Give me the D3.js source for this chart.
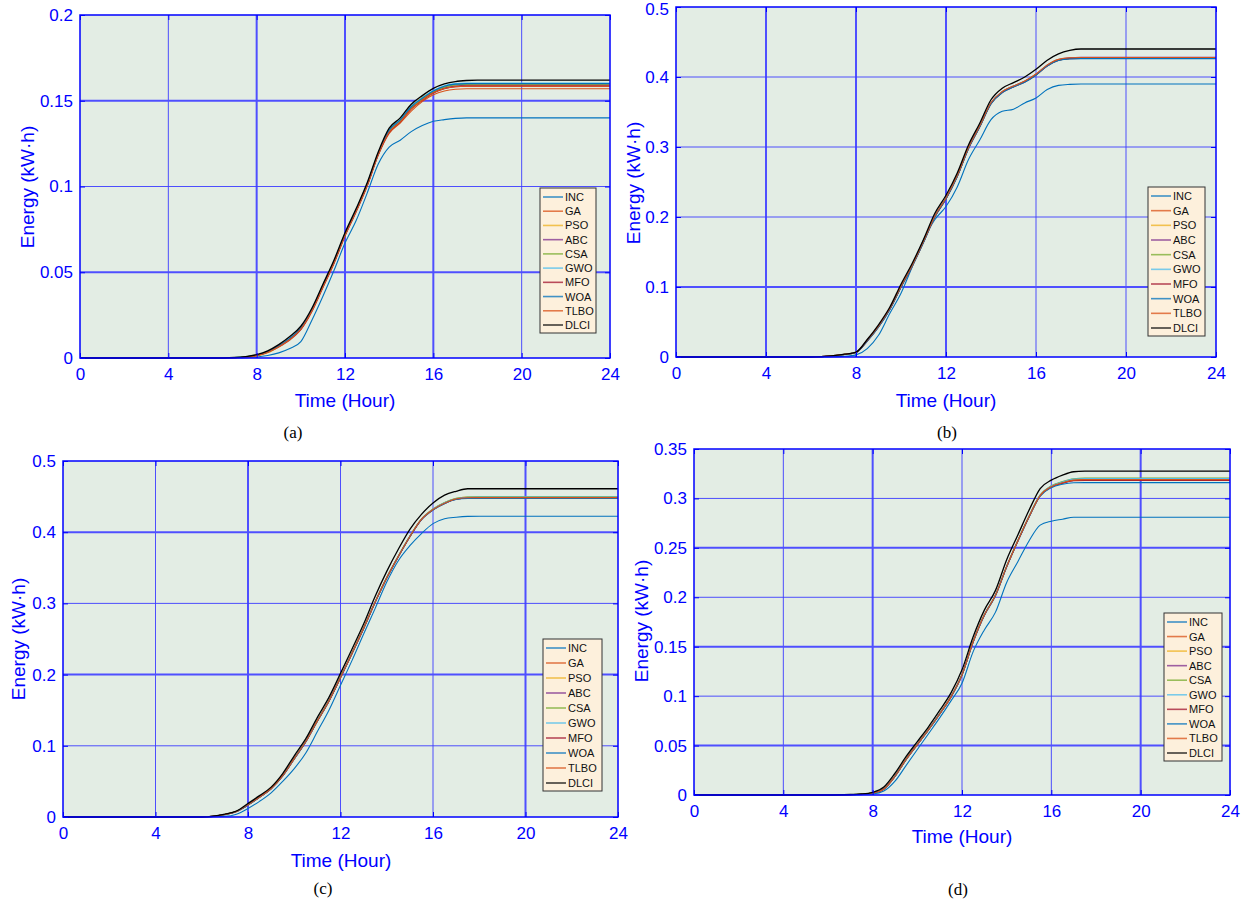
<!DOCTYPE html>
<html><head><meta charset="utf-8">
<script src="https://cdn.jsdelivr.net/npm/d3@7"></script>
<style>body{margin:0;background:#fff;} svg{display:block;}</style>
</head><body><svg id="chart" width="1245" height="904"></svg>
<script>
// ---------- DATA ----------
const hours = [0,6,7,7.5,8,8.5,9,9.5,10,10.5,11,11.5,12,12.5,13,13.5,14,14.5,15,15.5,16,16.5,17,17.5,18,24];
const seriesNames = ["INC","GA","PSO","ABC","CSA","GWO","MFO","WOA","TLBO","DLCI"];
const xTickValues = [0,4,8,12,16,20,24];
const xTickLabels = ["0","4","8","12","16","20","24"];
const yTicksA = [0,0.05,0.1,0.15,0.2];   const yTickLabelsA = ["0","0.05","0.1","0.15","0.2"];
const yTicksB = [0,0.1,0.2,0.3,0.4,0.5]; const yTickLabelsB = ["0","0.1","0.2","0.3","0.4","0.5"];
const yTicksC = [0,0.1,0.2,0.3,0.4,0.5]; const yTickLabelsC = ["0","0.1","0.2","0.3","0.4","0.5"];
const yTicksD = [0,0.05,0.1,0.15,0.2,0.25,0.3,0.35]; const yTickLabelsD = ["0","0.05","0.1","0.15","0.2","0.25","0.3","0.35"];
const captions = ["(a)","(b)","(c)","(d)"];
const xTitle = "Time (Hour)";
const yTitle = "Energy (kW·h)";

// panel (a)
const a_INC  = [0,0,0,0.0002,0.0006,0.0015,0.003,0.0055,0.0095,0.022,0.036,0.051,0.067,0.080,0.096,0.113,0.123,0.127,0.132,0.1355,0.138,0.139,0.1397,0.14,0.14,0.14];
const a_GA   = [0,0,0.0002,0.0006,0.0014,0.0032,0.0064,0.0105,0.0165,0.027,0.041,0.055,0.071,0.085,0.100,0.118,0.131,0.137,0.144,0.1495,0.1535,0.1557,0.1567,0.157,0.157,0.157];
const a_PSO  = [0,0,0.0001,0.0004,0.0011,0.0030,0.0066,0.0112,0.0175,0.028,0.042,0.056,0.072,0.086,0.101,0.119,0.133,0.139,0.147,0.152,0.1555,0.1578,0.1590,0.1594,0.1595,0.1595];
const a_ABC  = [0,0,0.0002,0.0006,0.0015,0.0034,0.0066,0.0108,0.0168,0.0275,0.0415,0.0555,0.0715,0.0855,0.1005,0.1185,0.1318,0.1378,0.1455,0.1505,0.1548,0.1574,0.1586,0.159,0.159,0.159];
const a_CSA  = [0,0,0.0002,0.0007,0.0016,0.0036,0.0069,0.0112,0.0172,0.028,0.042,0.056,0.072,0.086,0.101,0.119,0.1325,0.1385,0.146,0.151,0.1553,0.1580,0.1593,0.1597,0.1598,0.1598];
const a_GWO  = [0,0,0.0002,0.0007,0.0017,0.0038,0.0072,0.0116,0.0176,0.0283,0.0425,0.0565,0.0725,0.0865,0.1015,0.1193,0.133,0.139,0.1468,0.1518,0.1560,0.1588,0.1600,0.1603,0.1603,0.1603];
const a_MFO  = [0,0,0.0002,0.0006,0.0015,0.0035,0.0068,0.011,0.0168,0.0275,0.0415,0.0555,0.0715,0.0855,0.1005,0.1185,0.1315,0.1375,0.1452,0.1502,0.1545,0.157,0.1582,0.1585,0.1585,0.1585];
const a_WOA  = [0,0,0.0002,0.0007,0.0016,0.0037,0.007,0.0114,0.0174,0.0282,0.0422,0.0562,0.0722,0.0862,0.1012,0.119,0.1328,0.1388,0.1465,0.1515,0.1557,0.1585,0.1597,0.16,0.16,0.16];
const a_TLBO = [0,0,0.0002,0.0006,0.0015,0.0034,0.0066,0.0108,0.0168,0.0275,0.0415,0.0555,0.0715,0.0855,0.1005,0.1185,0.1316,0.1376,0.1453,0.1503,0.1546,0.1571,0.1582,0.1585,0.1585,0.1585];
const a_DLCI = [0,0,0.0003,0.0008,0.002,0.0042,0.0078,0.0125,0.0185,0.029,0.043,0.057,0.073,0.087,0.102,0.120,0.134,0.140,0.148,0.153,0.1572,0.1598,0.1612,0.1618,0.162,0.162];

// panel (b)
const b_INC  = [0,0,0.0005,0.001,0.003,0.012,0.031,0.062,0.091,0.129,0.167,0.196,0.215,0.243,0.282,0.31,0.339,0.351,0.354,0.363,0.37,0.382,0.388,0.3895,0.39,0.39];
const b_GA   = [0,0,0.0018,0.0037,0.0065,0.023,0.043,0.068,0.100,0.130,0.164,0.200,0.226,0.258,0.298,0.329,0.362,0.378,0.386,0.393,0.403,0.416,0.424,0.4265,0.427,0.427];
const b_PSO  = [0,0,0.0019,0.0038,0.0066,0.0235,0.0435,0.0685,0.1005,0.1305,0.1645,0.2005,0.2265,0.2585,0.2985,0.3295,0.3625,0.3785,0.3865,0.3935,0.4035,0.4165,0.4245,0.427,0.4275,0.4275];
const b_ABC  = [0,0,0.0019,0.0038,0.0067,0.024,0.044,0.069,0.101,0.131,0.165,0.201,0.227,0.259,0.299,0.330,0.363,0.379,0.387,0.394,0.404,0.417,0.425,0.4275,0.428,0.428];
const b_CSA  = [0,0,0.0018,0.0037,0.0066,0.0235,0.0435,0.0685,0.1005,0.1305,0.1645,0.2005,0.2265,0.2585,0.2985,0.3295,0.3625,0.3785,0.3865,0.3935,0.4035,0.4163,0.4243,0.4265,0.4268,0.4268];
const b_GWO  = [0,0,0.0019,0.0038,0.0066,0.0238,0.0438,0.0688,0.1008,0.1308,0.1648,0.2008,0.2268,0.2588,0.2988,0.3298,0.3628,0.3788,0.3868,0.3938,0.4038,0.4168,0.4248,0.4268,0.4272,0.4272];
const b_MFO  = [0,0,0.0018,0.0036,0.0064,0.0228,0.0428,0.0678,0.0998,0.1298,0.1638,0.1998,0.2258,0.2578,0.2978,0.3288,0.3618,0.3778,0.3858,0.3928,0.4028,0.4158,0.4238,0.4262,0.4265,0.4265];
const b_WOA  = [0,0,0.0017,0.0036,0.0064,0.0226,0.0426,0.0676,0.0996,0.1296,0.1636,0.1996,0.2256,0.2576,0.2976,0.3286,0.3616,0.3776,0.3856,0.3926,0.4026,0.4156,0.4236,0.4259,0.4262,0.4262];
const b_TLBO = [0,0,0.0019,0.0039,0.0068,0.0242,0.0442,0.0692,0.1012,0.1312,0.1652,0.2012,0.2272,0.2592,0.2992,0.3302,0.3632,0.3792,0.3872,0.3942,0.4042,0.4172,0.4252,0.4274,0.4278,0.4278];
const b_DLCI = [0,0,0.002,0.004,0.007,0.025,0.046,0.071,0.104,0.134,0.168,0.205,0.231,0.263,0.303,0.334,0.3675,0.384,0.392,0.400,0.411,0.424,0.433,0.438,0.44,0.44];

// panel (c)
const c_INC  = [0,0,0.001,0.004,0.012,0.022,0.034,0.050,0.068,0.090,0.120,0.150,0.185,0.220,0.257,0.293,0.330,0.360,0.381,0.398,0.412,0.419,0.421,0.4222,0.4225,0.4225];
const c_GA   = [0,0,0.0035,0.0078,0.017,0.028,0.040,0.058,0.082,0.106,0.135,0.163,0.196,0.230,0.265,0.302,0.336,0.366,0.394,0.418,0.432,0.441,0.447,0.4487,0.449,0.449];
const c_PSO  = [0,0,0.0036,0.0079,0.0172,0.0282,0.0403,0.0583,0.0823,0.1063,0.1353,0.1633,0.1963,0.2303,0.2653,0.3023,0.3363,0.3663,0.3943,0.4183,0.4324,0.4414,0.4474,0.4492,0.4495,0.4495];
const c_ABC  = [0,0,0.0034,0.0077,0.0169,0.0279,0.0398,0.0578,0.0818,0.1058,0.1348,0.1628,0.1958,0.2298,0.2648,0.3018,0.3358,0.3658,0.3938,0.4178,0.4316,0.4405,0.4464,0.4478,0.448,0.448];
const c_CSA  = [0,0,0.0036,0.008,0.0173,0.0284,0.0405,0.0585,0.0825,0.1065,0.1355,0.1635,0.1965,0.2305,0.2655,0.3025,0.3365,0.3665,0.3945,0.4185,0.4326,0.4416,0.4477,0.4495,0.4498,0.4498];
const c_GWO  = [0,0,0.0035,0.0079,0.0171,0.0281,0.0402,0.0582,0.0822,0.1062,0.1352,0.1632,0.1962,0.2302,0.2652,0.3022,0.3362,0.3662,0.3942,0.4182,0.4322,0.4412,0.4471,0.4489,0.4492,0.4492];
const c_MFO  = [0,0,0.0034,0.0077,0.0168,0.0278,0.0397,0.0577,0.0817,0.1057,0.1347,0.1627,0.1957,0.2297,0.2647,0.3017,0.3357,0.3657,0.3937,0.4177,0.4314,0.4403,0.4462,0.4476,0.4478,0.4478];
const c_WOA  = [0,0,0.0033,0.0076,0.0167,0.0277,0.0396,0.0576,0.0816,0.1056,0.1346,0.1626,0.1956,0.2296,0.2646,0.3016,0.3356,0.3656,0.3936,0.4176,0.4312,0.4401,0.4459,0.4473,0.4475,0.4475];
const c_TLBO = [0,0,0.0035,0.0078,0.017,0.028,0.040,0.058,0.082,0.106,0.135,0.163,0.196,0.230,0.265,0.302,0.336,0.366,0.394,0.418,0.4318,0.4407,0.4467,0.4483,0.4485,0.4485];
const c_DLCI = [0,0,0.004,0.0084,0.019,0.030,0.042,0.061,0.086,0.110,0.140,0.168,0.2017,0.236,0.271,0.310,0.345,0.376,0.404,0.425,0.441,0.452,0.4575,0.461,0.461,0.461];

// panel (d)
const d_INC  = [0,0,0.0001,0.0004,0.001,0.004,0.014,0.030,0.046,0.062,0.078,0.095,0.113,0.145,0.167,0.185,0.215,0.236,0.257,0.273,0.277,0.279,0.281,0.281,0.281,0.281];
const d_GA   = [0,0,0.0003,0.0008,0.002,0.006,0.019,0.036,0.051,0.066,0.082,0.099,0.1215,0.155,0.182,0.202,0.231,0.257,0.2815,0.303,0.312,0.316,0.319,0.3195,0.3195,0.3195];
const d_PSO  = [0,0,0.0003,0.0008,0.0021,0.0062,0.0192,0.0362,0.0512,0.0662,0.0822,0.0992,0.1217,0.1552,0.1822,0.2022,0.2312,0.2572,0.2817,0.3032,0.3123,0.3163,0.3192,0.3198,0.3198,0.3198];
const d_ABC  = [0,0,0.0003,0.0008,0.002,0.006,0.019,0.036,0.051,0.066,0.082,0.099,0.1215,0.155,0.182,0.202,0.231,0.257,0.2815,0.3028,0.3117,0.3155,0.3182,0.3186,0.3186,0.3186];
const d_CSA  = [0,0,0.0003,0.0009,0.0022,0.0064,0.0195,0.0365,0.0515,0.0665,0.0825,0.0995,0.122,0.1555,0.1825,0.2025,0.2315,0.2575,0.282,0.3036,0.3128,0.317,0.3198,0.3205,0.3205,0.3205];
const d_GWO  = [0,0,0.0003,0.0008,0.0021,0.0063,0.0193,0.0363,0.0513,0.0663,0.0823,0.0993,0.1218,0.1553,0.1823,0.2023,0.2313,0.2573,0.2818,0.3034,0.3125,0.3166,0.3195,0.3201,0.3201,0.3201];
const d_MFO  = [0,0,0.0003,0.0008,0.002,0.006,0.019,0.036,0.051,0.066,0.082,0.099,0.1214,0.1549,0.1819,0.2019,0.2309,0.2569,0.2813,0.3027,0.3115,0.3153,0.318,0.3183,0.3183,0.3183];
const d_WOA  = [0,0,0.0002,0.0007,0.0019,0.0058,0.0188,0.0358,0.0508,0.0658,0.0818,0.0988,0.1212,0.1546,0.1816,0.2016,0.2306,0.2566,0.281,0.3022,0.3108,0.3143,0.3158,0.316,0.316,0.316];
const d_TLBO = [0,0,0.0003,0.0008,0.002,0.006,0.019,0.036,0.051,0.066,0.082,0.099,0.1215,0.155,0.182,0.202,0.231,0.257,0.2814,0.3029,0.3119,0.3158,0.3185,0.319,0.319,0.319];
const d_DLCI = [0,0,0.0005,0.001,0.0027,0.008,0.022,0.039,0.054,0.069,0.0855,0.103,0.1266,0.160,0.187,0.207,0.238,0.263,0.288,0.310,0.3185,0.3236,0.327,0.3276,0.3277,0.3277];

// ---------- STYLE / LAYOUT ----------
const seriesColors = ["#0072BD","#D95319","#EDB120","#7E2F8E","#77AC30","#4DBEEE","#A2142F","#0072BD","#D95319","#000000"];
const BLUE = "#0000ff";
const SANS = "'Liberation Sans', Arial, Helvetica, sans-serif";
const SERIF = "'Liberation Serif', 'Times New Roman', serif";

const panels = [
  { series:[a_INC,a_GA,a_PSO,a_ABC,a_CSA,a_GWO,a_MFO,a_WOA,a_TLBO,a_DLCI], yMax:0.2, yTicks:yTicksA, yLabels:yTickLabelsA,
    l:80, r:610, t:15, b:358, xThick:[8,12,16], yThick:[0.05,0.15],
    leg:{x:540,y:188,w:56,h:145}, xt:{x:345,y:400}, yt:{x:27,y:187}, cap:{x:293,y:432} },
  { series:[b_INC,b_GA,b_PSO,b_ABC,b_CSA,b_GWO,b_MFO,b_WOA,b_TLBO,b_DLCI], yMax:0.5, yTicks:yTicksB, yLabels:yTickLabelsB,
    l:676, r:1216, t:7, b:357, xThick:[4,8,12], yThick:[0.1],
    leg:{x:1148,y:187,w:57,h:149}, xt:{x:946,y:400}, yt:{x:633,y:183}, cap:{x:947,y:432} },
  { series:[c_INC,c_GA,c_PSO,c_ABC,c_CSA,c_GWO,c_MFO,c_WOA,c_TLBO,c_DLCI], yMax:0.5, yTicks:yTicksC, yLabels:yTickLabelsC,
    l:63, r:618, t:461, b:817, xThick:[8,20], yThick:[0.2,0.4],
    leg:{x:543,y:639,w:59,h:152}, xt:{x:341,y:860}, yt:{x:18,y:639}, cap:{x:323,y:888} },
  { series:[d_INC,d_GA,d_PSO,d_ABC,d_CSA,d_GWO,d_MFO,d_WOA,d_TLBO,d_DLCI], yMax:0.35, yTicks:yTicksD, yLabels:yTickLabelsD,
    l:694, r:1230, t:449, b:795, xThick:[8,20], yThick:[0.05,0.15,0.25],
    leg:{x:1164,y:613,w:58,h:148}, xt:{x:962,y:836}, yt:{x:641,y:621}, cap:{x:958,y:889} }
];

const svg = d3.select("#chart");

panels.forEach((p, pi) => {
  const g = svg.append("g");
  const x = d3.scaleLinear().domain([0,24]).range([p.l,p.r]);
  const y = d3.scaleLinear().domain([0,p.yMax]).range([p.b,p.t]);

  g.append("rect").attr("x",p.l).attr("y",p.t).attr("width",p.r-p.l).attr("height",p.b-p.t)
    .attr("fill","#e3ede4");

  // grid
  xTickValues.filter(v => v>0 && v<24).forEach(v => {
    const thick = p.xThick.includes(v);
    g.append("line").attr("x1",x(v)).attr("x2",x(v)).attr("y1",p.t).attr("y2",p.b)
      .attr("stroke", thick ? "#4f4fff" : "#3c3cff").attr("stroke-width", thick ? 2 : 0.9);
  });
  p.yTicks.filter(v => v>0 && v<p.yMax).forEach(v => {
    const thick = p.yThick.includes(v);
    g.append("line").attr("x1",p.l).attr("x2",p.r).attr("y1",y(v)).attr("y2",y(v))
      .attr("stroke", thick ? "#4f4fff" : "#3c3cff").attr("stroke-width", thick ? 2 : 0.9);
  });

  // lines
  const line = d3.line().x((d,i) => x(hours[i])).y(d => y(d)).curve(d3.curveMonotoneX);
  p.series.forEach((s, si) => {
    g.append("path").datum(s).attr("d", line).attr("fill","none")
      .attr("stroke", seriesColors[si]).attr("stroke-width", si === 9 ? 1.3 : 1.1);
  });

  // axes
  const styleAxis = sel => {
    sel.select(".domain").remove();
    sel.selectAll(".tick line").attr("stroke", BLUE).attr("stroke-width",1);
    sel.selectAll(".tick text").attr("fill", BLUE).style("font-family", SANS).style("font-size","17px");
  };
  g.append("g").attr("transform",`translate(0,${p.b})`)
    .call(d3.axisBottom(x).tickValues(xTickValues).tickFormat((d,i) => xTickLabels[i]).tickSize(-5).tickPadding(10))
    .call(styleAxis);
  g.append("g").attr("transform",`translate(0,${p.t})`)
    .call(d3.axisTop(x).tickValues(xTickValues).tickFormat("").tickSize(-5))
    .call(styleAxis);
  const yAx = g.append("g").attr("transform",`translate(${p.l},0)`)
    .call(d3.axisLeft(y).tickValues(p.yTicks).tickFormat((d,i) => p.yLabels[i]).tickSize(-5).tickPadding(7))
    .call(styleAxis);
  // keep the top label inside the picture
  yAx.selectAll(".tick text").filter(d => y(d) < 10).attr("dy", "0.45em");
  g.append("g").attr("transform",`translate(${p.r},0)`)
    .call(d3.axisRight(y).tickValues(p.yTicks).tickFormat("").tickSize(-5))
    .call(styleAxis);

  g.append("rect").attr("x",p.l).attr("y",p.t).attr("width",p.r-p.l).attr("height",p.b-p.t)
    .attr("fill","none").attr("stroke",BLUE).attr("stroke-width",1.5);

  // axis titles
  g.append("text").attr("x",p.xt.x).attr("y",p.xt.y).attr("text-anchor","middle")
    .attr("dominant-baseline","central").attr("fill",BLUE)
    .style("font-family",SANS).style("font-size","19px").text(xTitle);
  g.append("text").attr("transform",`translate(${p.yt.x},${p.yt.y}) rotate(-90)`).attr("text-anchor","middle")
    .attr("dominant-baseline","central").attr("fill",BLUE)
    .style("font-family",SANS).style("font-size","19px").text(yTitle);

  // caption
  g.append("text").attr("x",p.cap.x).attr("y",p.cap.y).attr("text-anchor","middle")
    .attr("dominant-baseline","central").attr("fill","#000")
    .style("font-family",SERIF).style("font-size","17px").text(captions[pi]);

  // legend
  const L = p.leg;
  g.append("rect").attr("x",L.x).attr("y",L.y).attr("width",L.w).attr("height",L.h)
    .attr("fill","#fdf0dc").attr("stroke","#333").attr("stroke-width",1);
  const step = (L.h - 17) / 9;
  seriesNames.forEach((n, si) => {
    const cy = L.y + 9 + si*step;
    g.append("line").attr("x1",L.x+3).attr("x2",L.x+23).attr("y1",cy).attr("y2",cy)
      .attr("stroke",seriesColors[si]).attr("stroke-width",1.6).attr("stroke-opacity",0.75);
    g.append("text").attr("x",L.x+25).attr("y",cy).attr("dominant-baseline","central")
      .attr("fill","#111").style("font-family",SANS).style("font-size","11px").text(n);
  });
});
</script>
</body></html>
